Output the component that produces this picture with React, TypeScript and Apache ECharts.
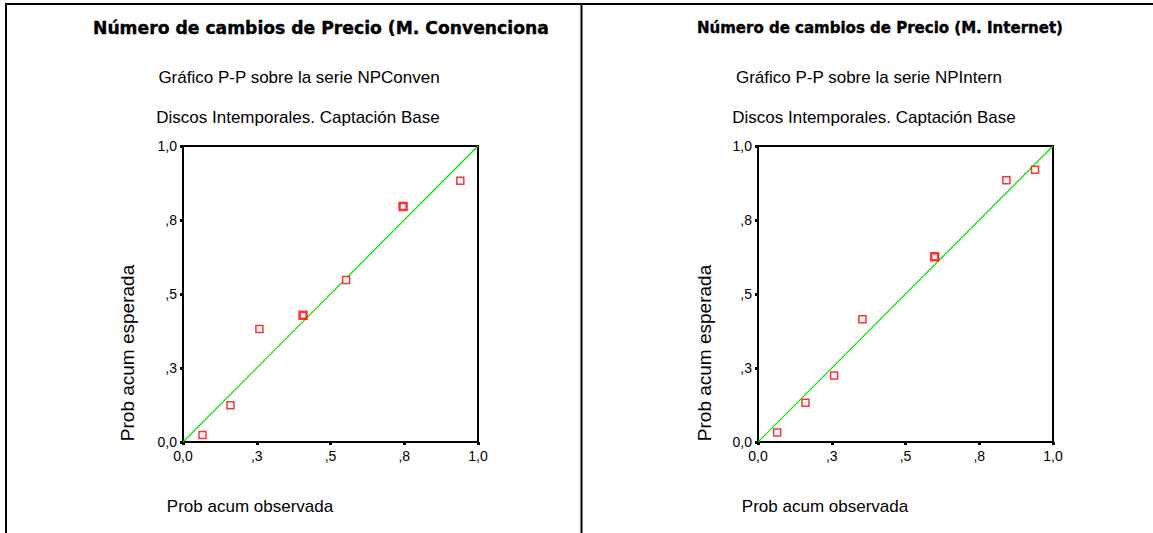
import React, { useEffect, useRef } from "react";
import * as echarts from "echarts";

// ---- data ----
const tickValues = [0, 0.25, 0.5, 0.75, 1];
const tickLabels = ["0,0", ",3", ",5", ",8", "1,0"];

const convObserved = [0.066, 0.161, 0.259, 0.407, 0.553, 0.746, 0.94];
const convExpected = [0.024, 0.124, 0.382, 0.428, 0.547, 0.796, 0.883];
const convCases = [1, 1, 1, 2, 1, 2, 1];

const intObserved = [0.065, 0.161, 0.258, 0.354, 0.599, 0.842, 0.939];
const intExpected = [0.032, 0.133, 0.225, 0.415, 0.626, 0.884, 0.92];
const intCases = [1, 1, 1, 1, 2, 1, 1];

const diagonal = [
  [0, 0],
  [1, 1],
];

const titles = ["Número de cambios de Precio (M. Convenciona", "Número de cambios de Precio (M. Internet)"];
const subtitles = ["Gráfico P-P sobre la serie NPConven", "Gráfico P-P sobre la serie NPIntern"];
const subtitle2 = "Discos Intemporales. Captación Base";
const xName = "Prob acum observada";
const yName = "Prob acum esperada";

const SANS = "'Liberation Sans', Arial, sans-serif";
const BOLD = "'DejaVu Sans', 'Liberation Sans', sans-serif";

function fmt(v: number) {
  const i = tickValues.findIndex((t) => Math.abs(t - v) < 1e-9);
  return i >= 0 ? tickLabels[i] : "";
}

function points(obs: number[], exp: number[], cases: number[]) {
  return obs.map((x, i) => ({
    value: [x, exp[i]],
    itemStyle: { borderWidth: cases[i] > 1 ? 2.5 : 1.5 },
  }));
}

export default function App() {
  const ref = useRef<HTMLDivElement>(null);
  useEffect(() => {
    if (!ref.current) return;
    const chart = echarts.init(ref.current, null, { renderer: "svg" });
    const grids = [
      { left: 183, top: 146, width: 295, height: 296 },
      { left: 758, top: 146, width: 295, height: 296 },
    ];
    const axisCommon = {
      type: "value",
      min: 0,
      max: 1,
      interval: 0.25,
      splitLine: { show: false },
      axisLine: { show: true, lineStyle: { color: "#000", width: 2 } },
      axisTick: { show: true, inside: false, length: 3, lineStyle: { color: "#000", width: 3 } },
      axisLabel: {
        color: "#000",
        fontFamily: SANS,
        fontSize: 14,
        formatter: (v: number) => fmt(v),
      },
    };
    const mkText = (text: string, x: number, y: number, opts: any = {}) => ({
      type: "text",
      x,
      y,
      rotation: opts.rotation || 0,
      style: {
        text,
        fill: "#000",
        fontFamily: opts.fontFamily || SANS,
        fontSize: opts.fontSize || 16,
        fontWeight: opts.fontWeight || "normal",
        textAlign: opts.align || "center",
        textVerticalAlign: "middle",
        stroke: opts.heavy ? "#000" : undefined,
        lineWidth: opts.heavy ? 0.4 : 0,
      },
      z: 10,
    });
    const panels = [
      { titleX: 93, titleSize: 17.2, subX: 299, sub2X: 298, xNameX: 250, yNameX: 127.5 },
      { titleX: 697, titleSize: 15, subX: 869, sub2X: 874, xNameX: 825, yNameX: 704.5 },
    ];
    const graphic: any[] = [
      { type: "line", shape: { x1: 5, y1: 4, x2: 1153, y2: 4 }, style: { stroke: "#000", lineWidth: 2 } },
      { type: "line", shape: { x1: 6, y1: 3, x2: 6, y2: 533 }, style: { stroke: "#000", lineWidth: 2 } },
      { type: "line", shape: { x1: 581.5, y1: 3, x2: 581.5, y2: 533 }, style: { stroke: "#000", lineWidth: 2 } },
    ];
    panels.forEach((p, i) => {
      graphic.push(
        mkText(titles[i], p.titleX, 28, { fontFamily: BOLD, fontWeight: "bold", fontSize: p.titleSize, align: "left", heavy: true })
      );
      graphic.push(mkText(subtitles[i], p.subX, 77, { fontSize: 17 }));
      graphic.push(mkText(subtitle2, p.sub2X, 117, { fontSize: 17 }));
      graphic.push(mkText(xName, p.xNameX, 506, { fontSize: 17 }));
      graphic.push(mkText(yName, p.yNameX, 353, { fontSize: 19, rotation: Math.PI / 2 }));
    });

    const option: any = {
      animation: false,
      backgroundColor: "#fff",
      grid: grids.map((g) => ({ ...g, show: true, borderColor: "#000", borderWidth: 2, backgroundColor: "#fff" })),
      xAxis: [0, 1].map((i) => ({ ...axisCommon, gridIndex: i, position: "bottom", axisLabel: { ...axisCommon.axisLabel, margin: 7 } })),
      yAxis: [0, 1].map((i) => ({ ...axisCommon, gridIndex: i, position: "left", axisLabel: { ...axisCommon.axisLabel, margin: 6 } })),
      series: [
        {
          type: "line",
          xAxisIndex: 0,
          yAxisIndex: 0,
          data: diagonal,
          symbol: "none",
          lineStyle: { color: "#00dd00", width: 1.2 },
          z: 2,
        },
        {
          type: "line",
          xAxisIndex: 1,
          yAxisIndex: 1,
          data: diagonal,
          symbol: "none",
          lineStyle: { color: "#00dd00", width: 1.2 },
          z: 2,
        },
        {
          type: "scatter",
          xAxisIndex: 0,
          yAxisIndex: 0,
          data: points(convObserved, convExpected, convCases),
          symbol: "rect",
          symbolSize: 7,
          itemStyle: { color: "#fff", borderColor: "#ff0000" },
          z: 3,
        },
        {
          type: "scatter",
          xAxisIndex: 1,
          yAxisIndex: 1,
          data: points(intObserved, intExpected, intCases),
          symbol: "rect",
          symbolSize: 7,
          itemStyle: { color: "#fff", borderColor: "#ff0000" },
          z: 3,
        },
      ],
      graphic,
    };
    chart.setOption(option);
    return () => chart.dispose();
  }, []);
  return (
    <div
      ref={ref}
      style={{ position: "absolute", left: 0, top: 0, width: 1153, height: 533, background: "#fff" }}
    />
  );
}
